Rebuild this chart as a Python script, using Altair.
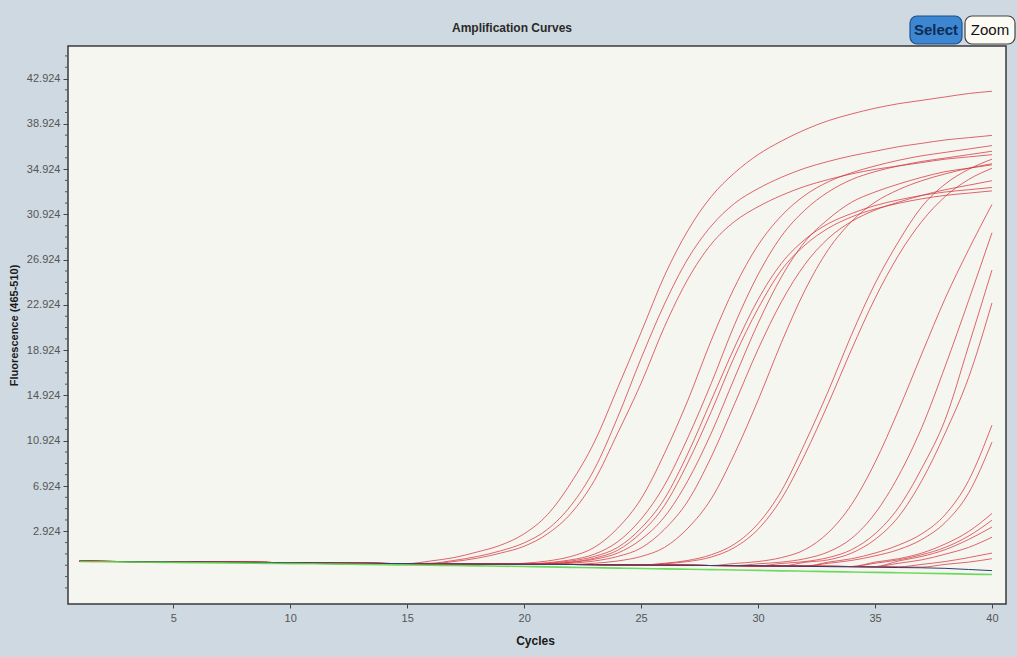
import altair as alt
import pandas as pd

# ---------------- data ----------------
cycles = list(range(1, 41))

y_tick_values = [2.924, 6.924, 10.924, 14.924, 18.924, 22.924, 26.924,
                 30.924, 34.924, 38.924, 42.924]
y_minor_values = [-2.076, -1.076, -0.076, 0.924, 1.924,
                  3.924, 4.924, 5.924, 7.924, 8.924, 9.924,
                  11.924, 12.924, 13.924, 15.924, 16.924, 17.924,
                  19.924, 20.924, 21.924, 23.924, 24.924, 25.924,
                  27.924, 28.924, 29.924, 31.924, 32.924, 33.924,
                  35.924, 36.924, 37.924, 39.924, 40.924, 41.924,
                  43.924, 44.924]
x_tick_values = [5, 10, 15, 20, 25, 30, 35, 40]

# common flat baseline of the red traces, cycles 1..40
baseline_red = [0.28, 0.26, 0.25, 0.24, 0.22, 0.21, 0.20, 0.18, 0.17, 0.15,
                0.14, 0.12, 0.10, 0.08, 0.07, 0.05, 0.04, 0.03, 0.02, 0.01,
                0.00, -0.01, -0.02, -0.04, -0.05, -0.07, -0.08, -0.10, -0.11, -0.13,
                -0.14, -0.16, -0.17, -0.19, -0.20, -0.22, -0.24, -0.26, -0.28, -0.30]

# green (negative control) trace, cycles 1..40
green_curve = [0.25, 0.23, 0.21, 0.19, 0.17, 0.15, 0.13, 0.11, 0.09, 0.07,
               0.05, 0.02, 0.00, -0.03, -0.05, -0.08, -0.10, -0.13, -0.16, -0.19,
               -0.22, -0.26, -0.30, -0.33, -0.36, -0.40, -0.43, -0.46, -0.50, -0.53,
               -0.57, -0.60, -0.64, -0.67, -0.71, -0.74, -0.78, -0.82, -0.86, -0.90]

# dark blue trace leaves the baseline at cycle 31
blue_start = 31
blue_curve = [-0.15, -0.17, -0.20, -0.22, -0.25, -0.28, -0.30, -0.35, -0.45, -0.55]

# red amplification curves: readings from their start cycle up to cycle 40
curve_A_start = 16
curve_A = [0.3, 0.6, 1.1, 1.7, 2.7, 4.4, 7.2, 10.8, 15.6, 20.5, 25.5, 29.5, 32.5,
           34.6, 36.2, 37.4, 38.4, 39.2, 39.8, 40.3, 40.7, 41.0, 41.3, 41.6, 41.8]
curve_B_start = 16
curve_B = [0.1, 0.35, 0.7, 1.2, 1.9, 3.1, 5.2, 8.4, 13.0, 18.2, 23.0, 27.0, 29.9,
           31.9, 33.2, 34.2, 35.0, 35.6, 36.1, 36.5, 36.9, 37.2, 37.5, 37.7, 37.9]
curve_C_start = 16
curve_C = [0.06, 0.25, 0.55, 1.0, 1.6, 2.7, 4.5, 7.4, 11.6, 16.0, 21.0, 25.2, 28.3,
           30.3, 31.6, 32.6, 33.4, 34.0, 34.5, 34.9, 35.2, 35.5, 35.8, 36.0, 36.2]
curve_D_start = 20
curve_D = [0.1, 0.3, 0.7, 1.5, 3.2, 5.8, 9.8, 14.5, 19.8, 24.5, 28.2, 30.8, 32.6,
           33.8, 34.6, 35.2, 35.7, 36.1, 36.4, 36.7, 37.0]
curve_E_start = 20
curve_E = [0.03, 0.15, 0.4, 0.9, 2.0, 4.0, 7.0, 11.2, 16.0, 21.2, 25.6, 29.0, 31.3,
           32.9, 34.0, 34.7, 35.2, 35.6, 35.9, 36.2, 36.5]
curve_F_start = 21
curve_F = [0.1, 0.3, 0.7, 1.5, 3.2, 5.8, 9.8, 14.5, 19.2, 23.4, 26.6, 28.7, 30.1,
           31.0, 31.7, 32.2, 32.6, 32.9, 33.1, 33.3]
curve_F2_start = 21
curve_F2 = [0.05, 0.2, 0.55, 1.25, 2.8, 5.2, 9.0, 13.5, 18.4, 22.6, 26.0, 28.2, 29.7,
            30.7, 31.4, 31.9, 32.3, 32.6, 32.8, 33.0]
curve_G_start = 21
curve_G = [0.04, 0.18, 0.45, 1.0, 2.2, 4.2, 7.4, 11.6, 16.5, 21.3, 25.4, 28.5, 30.5,
           32.0, 32.9, 33.6, 34.2, 34.7, 35.0, 35.3]
curve_H_start = 22
curve_H = [0.1, 0.3, 0.7, 1.45, 3.1, 5.6, 9.5, 14.2, 19.0, 23.2, 26.5, 28.8, 30.3,
           31.3, 32.0, 32.6, 33.1, 33.5, 33.9]
curve_I_start = 23
curve_I = [0.1, 0.3, 0.7, 1.5, 3.2, 5.8, 9.8, 14.5, 19.6, 24.2, 27.8, 30.3, 32.0,
           33.1, 33.9, 34.5, 35.0, 35.4]
curve_J_start = 26
curve_J = [0.1, 0.35, 0.85, 1.8, 3.6, 6.5, 10.7, 15.3, 20.3, 24.8, 28.5, 31.6, 33.6,
           34.9, 35.8]
curve_J2_start = 26
curve_J2 = [0.05, 0.25, 0.65, 1.5, 3.1, 5.8, 9.7, 14.2, 19.0, 23.5, 27.3, 30.3, 32.5,
            34.0, 35.0]
curve_L_start = 29
curve_L = [0.08, 0.25, 0.6, 1.3, 2.8, 5.3, 9.0, 13.6, 18.6, 23.5, 27.8, 31.8]
curve_M_start = 30
curve_M = [0.05, 0.2, 0.5, 1.1, 2.3, 4.5, 7.8, 12.1, 17.5, 23.3, 29.3]
curve_M2_start = 31
curve_M2 = [0.08, 0.25, 0.6, 1.3, 2.7, 5.0, 8.5, 12.8, 19.3, 26.0]
curve_N_start = 32
curve_N = [0.18, 0.4, 1.0, 2.2, 4.2, 7.4, 11.6, 16.5, 23.1]
curve_O_start = 33
curve_O = [0.2, 0.5, 1.0, 1.7, 2.7, 4.4, 7.4, 12.3]
curve_P_start = 33
curve_P = [0.1, 0.35, 0.75, 1.3, 2.2, 3.7, 6.3, 10.8]
curve_Q_start = 35
curve_Q = [0.2, 0.5, 1.0, 1.8, 2.9, 4.5]
curve_R_start = 35
curve_R = [0.1, 0.4, 0.85, 1.5, 2.5, 3.9]
curve_S_start = 36
curve_S = [0.3, 0.7, 1.3, 2.2, 3.3]
curve_T_start = 36
curve_T = [0.1, 0.4, 0.9, 1.5, 2.4]
curve_U_start = 37
curve_U = [0.0, 0.25, 0.6, 1.0]
curve_V_start = 38
curve_V = [0.0, 0.2, 0.5]

red_curves = {
    "A": (curve_A_start, curve_A), "B": (curve_B_start, curve_B),
    "C": (curve_C_start, curve_C), "D": (curve_D_start, curve_D),
    "E": (curve_E_start, curve_E), "F": (curve_F_start, curve_F),
    "F2": (curve_F2_start, curve_F2), "G": (curve_G_start, curve_G),
    "H": (curve_H_start, curve_H), "I": (curve_I_start, curve_I),
    "J": (curve_J_start, curve_J), "J2": (curve_J2_start, curve_J2),
    "L": (curve_L_start, curve_L), "M": (curve_M_start, curve_M),
    "M2": (curve_M2_start, curve_M2), "N": (curve_N_start, curve_N),
    "O": (curve_O_start, curve_O), "P": (curve_P_start, curve_P),
    "Q": (curve_Q_start, curve_Q), "R": (curve_R_start, curve_R),
    "S": (curve_S_start, curve_S), "T": (curve_T_start, curve_T),
    "U": (curve_U_start, curve_U), "V": (curve_V_start, curve_V),
}

chart_title = "Amplification Curves"

# ---------------- tables ----------------
rows = []
for name, (start, vals) in red_curves.items():
    full = baseline_red[:start - 1] + vals
    for c, v in zip(cycles, full):
        rows.append({"curve": name, "cycle": c, "value": v})
red_df = pd.DataFrame(rows)

green_df = pd.DataFrame({"curve": "green", "cycle": cycles, "value": green_curve})
blue_full = baseline_red[:blue_start - 1] + blue_curve
blue_df = pd.DataFrame({"curve": "blue", "cycle": cycles, "value": blue_full})
minor_df = pd.DataFrame({"value": y_minor_values})
one_df = pd.DataFrame({"k": [0]})

FONT = "Liberation Sans Narrow, Liberation Sans, Arial, sans-serif"
W, H = 938, 558

x_scale = alt.Scale(domain=[0.5, 40.6], nice=False, zero=False)
y_scale = alt.Scale(domain=[-3.5, 45.8], nice=False, zero=False)

x_axis = alt.Axis(values=x_tick_values, format="d", grid=False, domain=False,
                  tickSize=4, tickColor="#444", labelPadding=4,
                  labelFont=FONT, labelFontSize=11, labelColor="#555",
                  title="Cycles", titleFont=FONT, titleFontSize=12,
                  titleFontWeight="bold", titleColor="#1a1a1a",
                  titleX=467, titleY=36, titleBaseline="middle")
y_axis = alt.Axis(values=y_tick_values, format=".3f", grid=False, domain=False,
                  tickSize=5, tickColor="#444", labelPadding=3,
                  labelFont=FONT, labelFontSize=11, labelColor="#555",
                  title="Fluorescence (465-510)", titleFont=FONT, titleFontSize=11,
                  titleFontWeight="bold", titleColor="#1a1a1a",
                  titleX=-54, titleY=279, titleAngle=270,
                  titleAlign="center", titleBaseline="middle")

red_lines = alt.Chart(red_df).mark_line(
    color="#d3343d", strokeWidth=1, opacity=0.75, clip=True, interpolate="monotone"
).encode(
    x=alt.X("cycle:Q", scale=x_scale, axis=x_axis),
    y=alt.Y("value:Q", scale=y_scale, axis=y_axis),
    detail="curve:N",
)

blue_line = alt.Chart(blue_df).mark_line(
    color="#2d3f72", strokeWidth=1, clip=True, interpolate="monotone"
).encode(x=alt.X("cycle:Q", scale=x_scale), y=alt.Y("value:Q", scale=y_scale))

green_line = alt.Chart(green_df).mark_line(
    color="#5fd650", strokeWidth=1.6, opacity=0.9, clip=True, interpolate="monotone"
).encode(x=alt.X("cycle:Q", scale=x_scale), y=alt.Y("value:Q", scale=y_scale))

minor_ticks = alt.Chart(minor_df).mark_rule(color="#555", strokeWidth=1).encode(
    y=alt.Y("value:Q", scale=y_scale),
    x=alt.value(-3), x2=alt.value(0),
)

title_txt = alt.Chart(one_df).mark_text(
    text=chart_title, font=FONT, fontSize=12, fontWeight="bold", color="#2a2a2a",
    align="center", baseline="middle"
).encode(x=alt.value(444), y=alt.value(-18))

btn_select = alt.Chart(one_df).mark_rect(
    fill="#3d86d2", stroke="#1f4f8a", strokeWidth=1.2, cornerRadius=7
).encode(x=alt.value(842), x2=alt.value(894), y=alt.value(-30), y2=alt.value(-2))
btn_select_txt = alt.Chart(one_df).mark_text(
    text="Select", font=FONT, fontSize=15, fontWeight="bold", color="#0d2c55"
).encode(x=alt.value(868), y=alt.value(-16))
btn_zoom = alt.Chart(one_df).mark_rect(
    fill="#fbfbf4", stroke="#444", strokeWidth=1.2, cornerRadius=7
).encode(x=alt.value(897), x2=alt.value(947), y=alt.value(-30), y2=alt.value(-2))
btn_zoom_txt = alt.Chart(one_df).mark_text(
    text="Zoom", font=FONT, fontSize=15, color="#111"
).encode(x=alt.value(922), y=alt.value(-16))

chart = alt.layer(
    red_lines, blue_line, green_line, minor_ticks, title_txt,
    btn_select, btn_select_txt, btn_zoom, btn_zoom_txt,
).properties(
    width=W, height=H,
    autosize=alt.AutoSizeParams(type="none"),
    padding={"left": 68, "top": 46, "right": 11, "bottom": 53},
    background="#cfd9e1",
).configure_view(
    fill="#f6f6f1", stroke="#3a3a3a", strokeWidth=1.5
)

chart.save("out.html", embed_options={"renderer": "svg", "actions": False})
